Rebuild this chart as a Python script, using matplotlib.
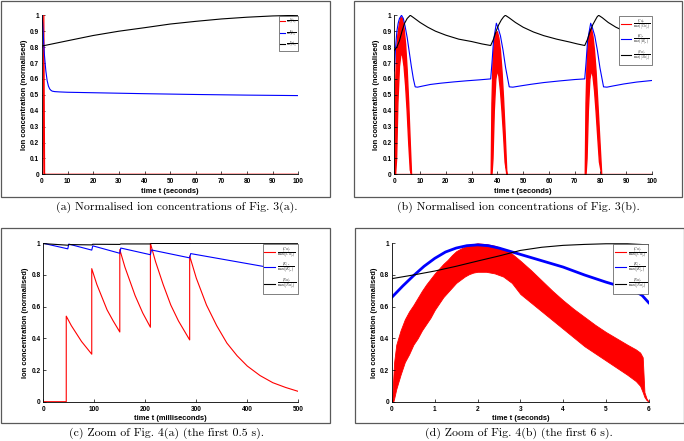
import numpy as np
import matplotlib
matplotlib.use("Agg")
import matplotlib.pyplot as plt
from matplotlib.lines import Line2D
from matplotlib.patches import Rectangle

plt.rcParams["font.family"] = ["Liberation Sans", "DejaVu Sans"]
plt.rcParams["mathtext.fontset"] = "cm"

# ---- panel (a): Fig. 3(a), time in seconds
a_t_ca = [0, 0.4, 0.7, 1.0, 1.3, 100]
a_ca = [0, 0, 1.0, 0.0, 0, 0]
a_t_k = [0, 0.25, 0.5, 0.75, 1, 1.5, 2, 2.5, 3, 3.5, 4, 5, 7, 10, 20, 40, 60, 80, 100]
a_k = [1.0, 0.95, 0.88, 0.8, 0.74, 0.65, 0.59, 0.555, 0.537, 0.528, 0.523, 0.52, 0.518,
       0.516, 0.513, 0.507, 0.502, 0.498, 0.495]
a_t_na = [0, 1, 10, 20, 30, 40, 50, 60, 70, 80, 90, 100]
a_na = [0.807, 0.81, 0.84, 0.873, 0.9, 0.922, 0.945, 0.962, 0.977, 0.988, 0.996, 1.0]

# ---- panel (b): Fig. 3(b), three calcium bursts (outer / inner envelopes)
b_burst_t = [
    [0, 0.3, 0.7, 1.2, 1.8, 2.4, 3.0, 3.6, 4.2, 4.8, 5.4, 6.0, 6.5],
    [37.4, 37.7, 38.1, 38.6, 39.2, 39.8, 40.4, 41.0, 41.6, 42.2, 42.8, 43.5],
    [73.9, 74.2, 74.6, 75.1, 75.7, 76.3, 76.9, 77.5, 78.1, 78.7, 79.4, 80.3],
]
b_burst_hi = [
    [0, 0.55, 0.78, 0.88, 0.95, 0.99, 0.98, 0.92, 0.82, 0.66, 0.45, 0.2, 0],
    [0, 0.45, 0.7, 0.83, 0.89, 0.9, 0.86, 0.78, 0.65, 0.48, 0.27, 0],
    [0, 0.45, 0.7, 0.84, 0.91, 0.92, 0.87, 0.78, 0.65, 0.48, 0.27, 0],
]
b_burst_lo = [
    [0, 0, 0.1, 0.45, 0.68, 0.76, 0.75, 0.68, 0.56, 0.4, 0.2, 0.03, 0],
    [0, 0, 0.1, 0.4, 0.6, 0.66, 0.62, 0.53, 0.4, 0.25, 0.08, 0],
    [0, 0, 0.1, 0.4, 0.6, 0.66, 0.62, 0.53, 0.4, 0.25, 0.08, 0],
]
b_t_k = [0, 0.5, 1, 1.5, 2, 2.8, 3.5, 4.2, 5, 5.8, 6.6, 7.4, 8.1, 9, 11, 14, 18, 23, 28, 33,
         37.4, 37.9, 38.5, 39.6, 40.3, 41.2, 42.2, 43.2, 44.6, 46, 49, 53, 58, 64, 70, 73.9,
         74.4, 75.0, 76.2, 76.9, 77.8, 78.8, 79.8, 81.2, 82.5, 85, 89, 94, 100]
b_k = [0.65, 0.8, 0.9, 0.95, 0.98, 1.0, 0.98, 0.93, 0.86, 0.77, 0.68, 0.6, 0.55, 0.548,
       0.555, 0.565, 0.573, 0.581, 0.588, 0.594, 0.6, 0.7, 0.84, 0.95, 0.92, 0.87, 0.78,
       0.67, 0.55, 0.548, 0.556, 0.566, 0.577, 0.587, 0.596, 0.6, 0.7, 0.84, 0.95, 0.92,
       0.87, 0.78, 0.67, 0.55, 0.548, 0.556, 0.568, 0.58, 0.59]
b_t_na = [0, 1, 2, 3, 4, 5, 6.2, 7.5, 10, 13, 16, 20, 25, 30, 34, 37.4, 38.5, 39.5, 40.5,
          41.5, 42.4, 43.1, 44.5, 47, 50, 54, 58, 63, 68, 71, 73.9, 75, 76, 77, 78, 78.7,
          79.3, 80.7, 83, 86, 90, 95, 100]
b_na = [0.78, 0.8, 0.84, 0.9, 0.95, 0.98, 1.0, 0.985, 0.955, 0.925, 0.9, 0.875, 0.85, 0.835,
        0.82, 0.81, 0.85, 0.9, 0.94, 0.97, 0.99, 1.0, 0.985, 0.955, 0.925, 0.895, 0.872,
        0.85, 0.832, 0.82, 0.81, 0.85, 0.9, 0.94, 0.97, 0.99, 1.0, 0.985, 0.955, 0.925,
        0.895, 0.865, 0.845]

# ---- panel (c): zoom of Fig. 4(a), time in milliseconds
c_t_ca = [0, 45, 45, 55, 65, 75, 85, 95, 95, 105, 115, 125, 137, 150, 150, 160, 170, 180,
          195, 210, 210, 220, 235, 250, 265, 287, 287, 300, 320, 340, 360, 380, 400, 425,
          450, 475, 500]
c_ca = [0, 0, 0.54, 0.48, 0.43, 0.38, 0.34, 0.30, 0.84, 0.74, 0.66, 0.58, 0.51, 0.44, 0.96,
        0.85, 0.76, 0.67, 0.56, 0.47, 1.0, 0.885, 0.74, 0.61, 0.51, 0.39, 0.92, 0.78, 0.61,
        0.48, 0.37, 0.29, 0.225, 0.165, 0.12, 0.09, 0.065]
c_t_k = [0, 48, 50, 95, 97, 150, 152, 210, 212, 287, 289, 500]
c_k = [1.0, 0.965, 0.995, 0.957, 0.984, 0.937, 0.97, 0.928, 0.958, 0.908, 0.935, 0.815]
c_t_na = [0, 48, 50, 95, 97, 150, 152, 210, 212, 287, 289, 350, 500]
c_na = [0.998, 0.988, 0.992, 0.99, 0.994, 0.993, 0.996, 0.996, 0.999, 0.999, 1.0, 1.0, 1.0]

# ---- panel (d): zoom of Fig. 4(b), time in seconds
d_t_ca = [0, 0.03, 0.05, 0.1, 0.2, 0.3, 0.4, 0.5, 0.6, 0.7, 0.8, 0.9, 1.0, 1.1, 1.2, 1.3,
          1.4, 1.5, 1.6, 1.7, 1.8, 1.9, 2.0, 2.2, 2.4, 2.6, 2.8, 3.0, 3.25, 3.5, 3.75, 4.0,
          4.25, 4.5, 4.75, 5.0, 5.25, 5.5, 5.7, 5.8, 5.86, 5.9, 5.95, 6.0]
d_ca_hi = [0, 0.15, 0.25, 0.36, 0.45, 0.52, 0.57, 0.61, 0.655, 0.70, 0.74, 0.775, 0.81,
           0.84, 0.87, 0.895, 0.925, 0.95, 0.965, 0.978, 0.988, 0.995, 1.0, 0.995, 0.985,
           0.965, 0.935, 0.89, 0.83, 0.765, 0.70, 0.64, 0.585, 0.535, 0.485, 0.44, 0.40,
           0.36, 0.33, 0.31, 0.28, 0.06, 0.02, 0.0]
d_ca_lo = [0, 0, 0.02, 0.08, 0.17, 0.25, 0.3, 0.36, 0.4, 0.45, 0.49, 0.53, 0.58, 0.62,
           0.66, 0.69, 0.72, 0.75, 0.77, 0.79, 0.805, 0.815, 0.82, 0.82, 0.81, 0.79, 0.75,
           0.68, 0.625, 0.57, 0.515, 0.46, 0.405, 0.35, 0.305, 0.26, 0.215, 0.17, 0.13,
           0.1, 0.06, 0.03, 0.01, 0.0]
d_t_k = [0, 0.25, 0.5, 0.75, 1, 1.25, 1.5, 1.75, 2, 2.25, 2.5, 2.75, 3, 3.5, 4, 4.5, 5, 5.5,
         5.7, 5.85, 6]
d_k = [0.66, 0.73, 0.795, 0.855, 0.905, 0.945, 0.97, 0.985, 0.99, 0.985, 0.97, 0.95, 0.93,
       0.89, 0.85, 0.80, 0.755, 0.715, 0.695, 0.67, 0.625]
d_t_na = [0, 0.5, 1, 1.5, 2, 2.5, 3, 3.5, 4, 4.5, 5, 5.5, 6]
d_na = [0.777, 0.80, 0.825, 0.855, 0.888, 0.92, 0.955, 0.975, 0.987, 0.993, 0.997, 0.997, 0.99]

captions = ["(a) Normalised ion concentrations of Fig. 3(a).",
            "(b) Normalised ion concentrations of Fig. 3(b).",
            "(c) Zoom of Fig. 4(a) (the first 0.5 s).",
            "(d) Zoom of Fig. 4(b) (the first 6 s)."]
legend_labels = [r"$\frac{[Ca]_i}{\max([Ca]_i)}$",
                 r"$\frac{[K]_o}{\max([K]_o)}$",
                 r"$\frac{[Na]_i}{\max([Na]_i)}$"]

W, H = 684, 441
fig = plt.figure(figsize=(W / 100, H / 100), dpi=100)

def px_axes(left, right, top, bottom):
    return fig.add_axes([left / W, 1 - bottom / H, (right - left) / W, (bottom - top) / H])

def style(ax, xmax, xticks, yticks, ylabels, xlabel, leg_fs, hlen=2.2):
    ax.set_xlim(0, xmax)
    ax.set_ylim(0, 1)
    ax.set_xticks(xticks)
    ax.set_yticks(yticks)
    ax.set_yticklabels(ylabels)
    for s in ["top", "right"]:
        ax.spines[s].set_visible(False)
    for s in ["left", "bottom"]:
        ax.spines[s].set_linewidth(0.6)
    ax.tick_params(direction="in", length=2.5, width=0.5, labelsize=4.7)
    ax.tick_params(axis="x", pad=3)
    ax.tick_params(axis="y", pad=2)
    for lab in ax.get_xticklabels() + ax.get_yticklabels():
        lab.set_fontweight("bold")
    ax.set_xlabel(xlabel, fontsize=5.4, fontweight="bold", labelpad=1.5)
    ax.set_ylabel("Ion concentration (normalised)", fontsize=5.4, fontweight="bold",
                  labelpad=1.5)
    handles = [Line2D([], [], color=c, lw=0.8) for c in ["r", "b", "k"]]
    leg = ax.legend(handles, legend_labels, loc="upper right", fontsize=leg_fs,
                    fancybox=False, framealpha=1, edgecolor="0.3", borderpad=0.3,
                    handlelength=hlen, handletextpad=0.4, labelspacing=0.15,
                    borderaxespad=0.1)
    leg.get_frame().set_linewidth(0.5)

def frame(left, right, top, bottom):
    fig.patches.append(Rectangle((left / W, 1 - bottom / H), (right - left) / W,
                                 (bottom - top) / H, transform=fig.transFigure,
                                 fill=False, edgecolor="0.35", lw=0.9))

yt1 = np.round(np.arange(0, 1.01, 0.1), 1)
yl1 = ["0"] + [f"{v:.1f}" for v in yt1[1:-1]] + ["1"]
yt2 = np.round(np.arange(0, 1.01, 0.2), 1)
yl2 = ["0"] + [f"{v:.1f}" for v in yt2[1:-1]] + ["1"]

# (a)
ax = px_axes(42, 298.3, 15.3, 174.3)
ax.plot(a_t_ca, a_ca, color="r", lw=0.9)
ax.plot(a_t_k, a_k, color="b", lw=0.8)
ax.plot(a_t_na, a_na, color="k", lw=0.8)
style(ax, 100, range(0, 101, 10), yt1, yl1, "time t (seconds)", 2.0, hlen=1.6)

# (b)
ax = px_axes(394.3, 652, 15.3, 174.3)
ax.plot([0, 100], [0, 0], color="r", lw=1.0)
for bt, hi, lo in zip(b_burst_t, b_burst_hi, b_burst_lo):
    ax.fill_between(bt, lo, hi, color="r", lw=1.0, edgecolor="r")
ax.plot(b_t_k, b_k, color="b", lw=0.8)
ax.plot(b_t_na, b_na, color="k", lw=0.8)
style(ax, 100, range(0, 101, 10), yt1, yl1, "time t (seconds)", 3.3)

# (c)
ax = px_axes(43.3, 298.3, 243.3, 401.7)
ax.plot(c_t_ca, c_ca, color="r", lw=0.8)
ax.plot(c_t_k, c_k, color="b", lw=0.8)
ax.plot(c_t_na, c_na, color="k", lw=0.8)
style(ax, 500, range(0, 501, 100), yt2, yl2, "time t (milliseconds)", 3.6)

# (d)
ax = px_axes(392, 648.7, 243.3, 401.7)
ax.fill_between(d_t_ca, d_ca_lo, d_ca_hi, color="r", lw=0.6, edgecolor="r")
ax.plot(d_t_k, d_k, color="b", lw=2.0)
ax.plot(d_t_na, d_na, color="k", lw=0.8)
style(ax, 6, range(0, 7), yt2, yl2, "time t (seconds)", 3.6)

# frames around each sub-figure
frame(1, 330, 1, 197)
frame(354, 682, 1, 197)
frame(1, 330, 228, 423)
frame(355, 683.5, 228, 423)

# captions
for (cx, cy), txt in zip([(176.5, 207), (518, 207), (166.5, 433), (519, 433)], captions):
    fig.text(cx / W, 1 - cy / H, txt, ha="center", va="center", fontsize=8.5,
             family="cmr10")

fig.savefig("out.png", dpi=100)
